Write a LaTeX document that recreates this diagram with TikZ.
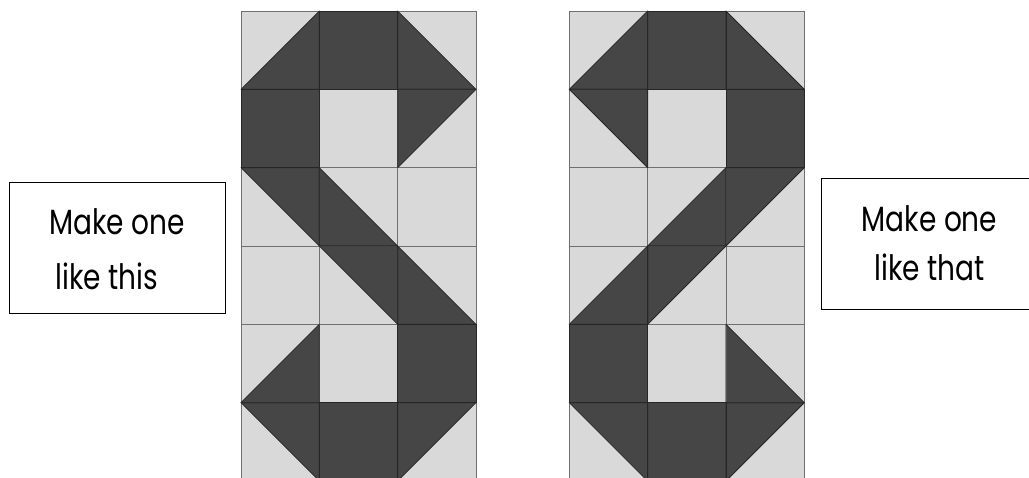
\documentclass[tikz,border=0pt]{standalone}
\usepackage{fontspec}
\setmainfont{Poppins}
\definecolor{qlight}{HTML}{D9D9D9}
\definecolor{qdark}{HTML}{464646}
\definecolor{qgrid}{HTML}{707070}
\tikzset{
  cellgrid/.style={draw=qgrid, line width=0.8pt},
  celledge/.style={draw=black!85, line width=0.8pt, line join=round},
  labelbox/.style={draw=black, line width=1pt, fill=white},
  labeltext/.style={anchor=base, inner sep=0pt, font=\fontsize{28}{30}\selectfont},
}
\def\s{78.333}
% types: L light, D dark, R dark lower-right, B dark lower-left, T dark upper-right, U dark upper-left
\newcommand{\darkshape}[2]{% #1 = style, #2 = type letter
  \if D#2 \path[#1] (0,0) rectangle (\s,\s);\fi
  \if R#2 \path[#1] (0,\s) -- (\s,0) -- (\s,\s) -- cycle;\fi
  \if B#2 \path[#1] (0,0) -- (\s,\s) -- (0,\s) -- cycle;\fi
  \if T#2 \path[#1] (0,0) -- (\s,0) -- (\s,\s) -- cycle;\fi
  \if U#2 \path[#1] (0,0) -- (\s,0) -- (0,\s) -- cycle;\fi
}
\def\leftlist{0/0/R,1/0/D,2/0/B,
  0/1/D,1/1/L,2/1/U,
  0/2/T,1/2/B,2/2/L,
  0/3/L,1/3/T,2/3/B,
  0/4/R,1/4/L,2/4/D,
  0/5/T,1/5/D,2/5/U}
\def\rightlist{0/0/R,1/0/D,2/0/B,
  0/1/T,1/1/L,2/1/D,
  0/2/L,1/2/R,2/2/U,
  0/3/R,1/3/U,2/3/L,
  0/4/D,1/4/L,2/4/B,
  0/5/T,1/5/D,2/5/U}
\newcommand{\quiltblock}[3]{% x0, y0, list
  \foreach \c/\r/\t in #3 {
    \begin{scope}[shift={({#1+\c*\s},{#2+\r*\s})}]
      \fill[qlight] (0,0) rectangle (\s,\s);
      \darkshape{fill=qdark}{\t}
    \end{scope}
  }
  \foreach \c/\r/\t in #3 {
    \begin{scope}[shift={({#1+\c*\s},{#2+\r*\s})}]
      \path[cellgrid] (0,0) rectangle (\s,\s);
    \end{scope}
  }
  \foreach \c/\r/\t in #3 {
    \begin{scope}[shift={({#1+\c*\s},{#2+\r*\s})}]
      \darkshape{celledge}{\t}
    \end{scope}
  }
}
\begin{document}
\begin{tikzpicture}[x=1pt,y=-1pt]
\useasboundingbox (0,0) rectangle (1029,478);
\fill[white] (0,0) rectangle (1029,478);
\begin{scope}
\clip (0,0) rectangle (1029,478);
\quiltblock{241}{11}{\leftlist}
\quiltblock{569.3}{11}{\rightlist}
\node[labelbox, minimum width=216pt, minimum height=131pt, inner sep=0pt] (lbox) at (117.6,248.4) {};
\node[labelbox, minimum width=220pt, minimum height=131pt, inner sep=0pt, anchor=north west] (rbox) at (821,178) {};
\end{scope}
\node[labeltext] (l1) at (117,235) {\scalebox{1}[1.25]{Make one}};
\node[labeltext] (l2) at (107,290) {\scalebox{1}[1.25]{like this}};
\node[labeltext] (r1) at (929.5,231.5) {\scalebox{1}[1.25]{Make one}};
\node[labeltext] (r2) at (929.5,280.5) {\scalebox{1}[1.25]{like that}};
\end{tikzpicture}
\end{document}
